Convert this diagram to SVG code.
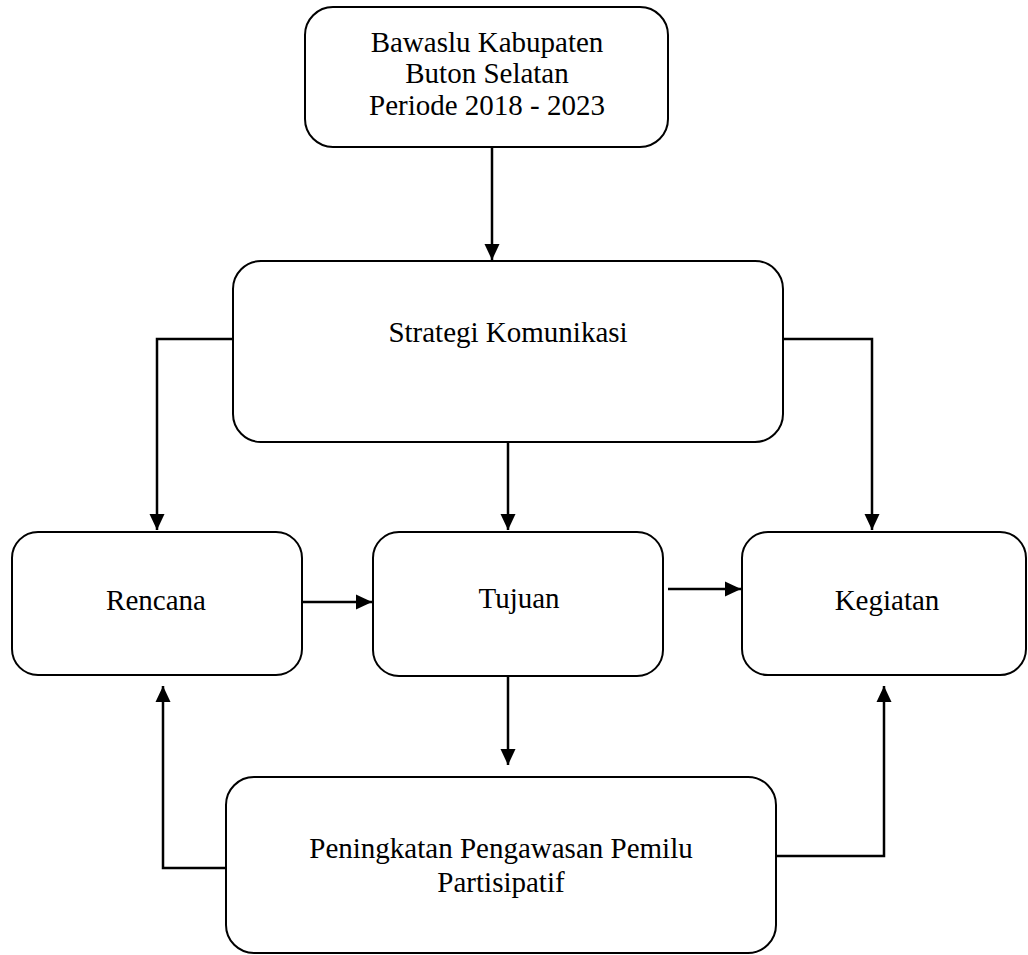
<svg xmlns="http://www.w3.org/2000/svg" width="1028" height="955" viewBox="0 0 1028 955">
<style>
.box{fill:#fff;stroke:#000;stroke-width:2}
.t{font-family:"Liberation Serif","Times New Roman",serif;font-size:29px;fill:#000;text-anchor:middle}
.c{fill:none;stroke:#000;stroke-width:2.5}
</style>
<defs>
<marker id="ah" markerUnits="userSpaceOnUse" markerWidth="18" markerHeight="18" viewBox="0 0 18 18" refX="16" refY="9" orient="auto">
<path d="M0,1.5 L16,9 L0,16.5 Z" fill="#000"/>
</marker>
</defs>
<rect width="1028" height="955" fill="#fff"/>
<g id="connectors">
<path class="c" d="M492,147 V260" marker-end="url(#ah)"/>
<path class="c" d="M233,339 H157 V530" marker-end="url(#ah)"/>
<path class="c" d="M508,442 V530" marker-end="url(#ah)"/>
<path class="c" d="M783,339 H872 V530" marker-end="url(#ah)"/>
<path class="c" d="M302,602 H372" marker-end="url(#ah)"/>
<path class="c" d="M668,589 H741" marker-end="url(#ah)"/>
<path class="c" d="M508,676 V765" marker-end="url(#ah)"/>
<path class="c" d="M226,868 H163 V686" marker-end="url(#ah)"/>
<path class="c" d="M776,856 H884 V686" marker-end="url(#ah)"/>
</g>
<g id="bawaslu">
<rect class="box" x="305" y="7" width="363" height="140" rx="28"/>
<text class="t" x="487" y="52">Bawaslu Kabupaten</text>
<text class="t" x="487" y="83">Buton Selatan</text>
<text class="t" x="487" y="115">Periode 2018 - 2023</text>
</g>
<g id="strategi">
<rect class="box" x="233" y="261" width="550" height="181" rx="28"/>
<text class="t" x="508" y="342">Strategi Komunikasi</text>
</g>
<g id="rencana">
<rect class="box" x="12" y="532" width="290" height="143" rx="26"/>
<text class="t" x="156" y="610">Rencana</text>
</g>
<g id="tujuan">
<rect class="box" x="373" y="532" width="290" height="144" rx="26"/>
<text class="t" x="519" y="608">Tujuan</text>
</g>
<g id="kegiatan">
<rect class="box" x="742" y="532" width="284" height="143" rx="26"/>
<text class="t" x="887" y="610">Kegiatan</text>
</g>
<g id="peningkatan">
<rect class="box" x="226" y="777" width="550" height="176" rx="28"/>
<text class="t" x="501" y="858">Peningkatan Pengawasan Pemilu</text>
<text class="t" x="501" y="892">Partisipatif</text>
</g>
</svg>
